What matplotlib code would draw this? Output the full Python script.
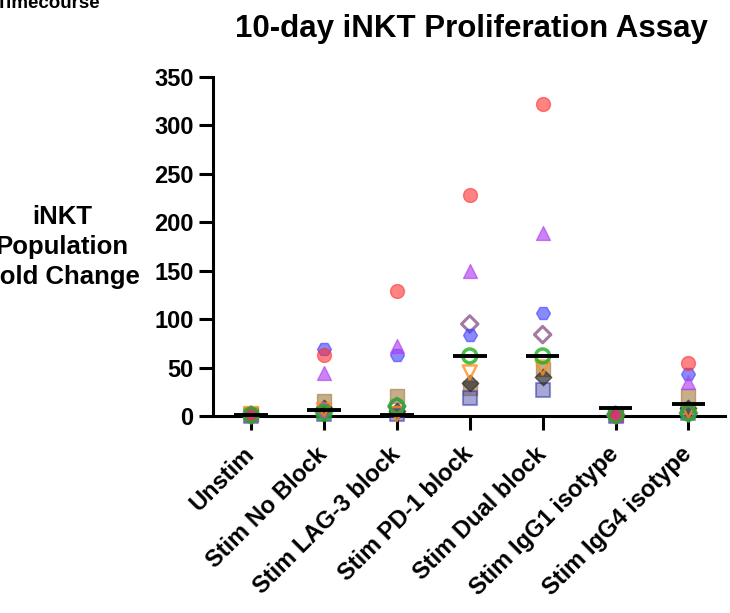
import numpy as np
import matplotlib
matplotlib.use("Agg")
import matplotlib.pyplot as plt

plt.rcParams['font.family'] = ['Liberation Sans', 'DejaVu Sans']
plt.rcParams['font.weight'] = 'bold'

groups = ["Unstim", "Stim No Block", "Stim LAG-3 block", "Stim PD-1 block",
          "Stim Dual block", "Stim IgG1 isotype", "Stim IgG4 isotype"]

# one list per donor, values per group
red_circle = [1, 63, 129, 228, 322, 1, 55]
blue_hex = [1, 69, 63, 84, 106, 1, 43]
purple_tri = [2, 44, 72, 150, 189, 1, 35]
tan_square = [2, 15, 21, 29, 48, 1, 21]
purple_diamond = [1, 5, 10, 95, 84, 1, 3]
green_ring = [1, 3, 10, 62, 62, 1, 3]
orange_tri = [2, 6, 2, 45, 50, 1, 5]
dark_diamond = [1, 8, 5, 34, 40, 1, 8]
navy_square = [0, 2, 2, 19, 27, 0, 3]

medians = [1, 6, 1, 62, 62, 8, 12]

# marker, face, edge, alpha, edge width
styles = [
    (tan_square, 's', '#a0783c', '#a0783c', 0.6, 1.0),
    (navy_square, 's', '#5050b0', '#3030a0', 0.5, 1.5),
    (dark_diamond, 'D', '#303030', '#303030', 0.7, 1.0),
    (orange_tri, 'v', 'none', '#ff9020', 0.8, 1.8),
    (purple_diamond, 'D', 'none', '#9a6a9a', 0.9, 2.2),
    (blue_hex, 'H', '#3c3cff', '#3c3cff', 0.6, 1.0),
    (purple_tri, '^', '#b040f0', '#b040f0', 0.65, 1.0),
    (red_circle, 'o', '#ff3030', '#ff3030', 0.6, 1.0),
    (green_ring, 'o', 'none', '#20b020', 0.8, 2.5),
]

fig = plt.figure(figsize=(7.30, 6.13), dpi=100)
ax = fig.add_axes([0.292, 0.3214, 0.701, 0.553])

x = np.arange(len(groups))
for vals, mk, fc, ec, a, lw in styles:
    sizes = 100 if mk != 'D' else 70
    ax.scatter(x, vals, marker=mk, s=sizes, facecolors=fc, edgecolors=ec,
               alpha=a, linewidths=lw, clip_on=False, zorder=3)

for xi, m in zip(x, medians):
    ax.plot([xi - 0.23, xi + 0.23], [m, m], color='black', lw=2.8,
            solid_capstyle='butt', zorder=4, clip_on=False)

ax.set_xlim(-0.52, 6.5)
ax.set_ylim(0, 350)
ax.set_yticks(np.arange(0, 351, 50))
ax.set_xticks(x)
ax.set_xticklabels(groups, rotation=45, ha='right', va='center',
                   rotation_mode='anchor', fontsize=17, fontweight='bold')
ax.tick_params(axis='y', labelsize=17, width=2.2, length=10, pad=4)
ax.tick_params(axis='x', width=2.2, length=10, pad=15)
for lab in ax.get_yticklabels():
    lab.set_fontweight('bold')

for s in ['top', 'right']:
    ax.spines[s].set_visible(False)
for s in ['left', 'bottom']:
    ax.spines[s].set_linewidth(2.2)

fig.text(0.646, 0.94, "10-day iNKT Proliferation Assay", ha='center', va='baseline',
         fontsize=22.5, fontweight='bold')
fig.text(0.085, 0.597, "iNKT\nPopulation\nFold Change", ha='center', va='center',
         fontsize=18.5, fontweight='bold', linespacing=1.3)
fig.text(-0.006, 0.987, "Timecourse", ha='left', va='baseline', fontsize=13.5, fontweight='bold')

fig.savefig("out.png", dpi=100)
